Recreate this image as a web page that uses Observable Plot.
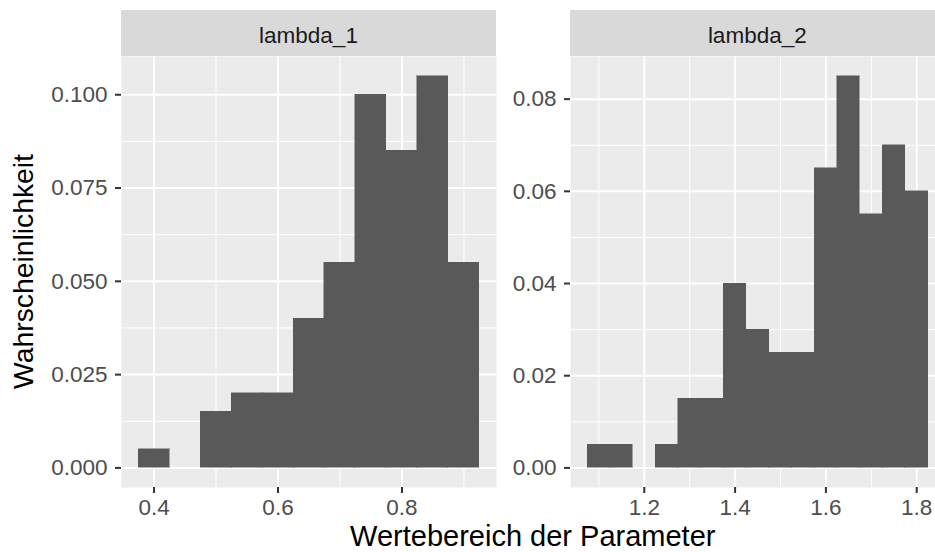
<!DOCTYPE html>
<html>
<head>
<meta charset="utf-8">
<script src="https://cdn.jsdelivr.net/npm/d3@7"></script>
<script src="https://cdn.jsdelivr.net/npm/@observablehq/plot@0.6"></script>
<style>
  html, body { margin: 0; padding: 0; background: #ffffff; }
  #chart { position: relative; width: 935px; height: 552px; overflow: hidden; background: #ffffff; }
  #chart > svg { position: absolute; left: 0; top: 0; max-width: none !important; }
  #chart [aria-label="x-axis tick label"], #chart [aria-label="y-axis tick label"] { fill: #4D4D4D; }
  #chart [aria-label="rect"] { shape-rendering: crispEdges; }
</style>
</head>
<body>
<div id="chart"></div>
<script>
// Posterior probabilities per bin (bin width 0.05, values are bin centres)
const binWidth = 0.05;

const lambda1Centers = [0.40, 0.45, 0.50, 0.55, 0.60, 0.65, 0.70, 0.75, 0.80, 0.85, 0.90];
const lambda1Probs   = [0.005, 0.000, 0.015, 0.020, 0.020, 0.040, 0.055, 0.100, 0.085, 0.105, 0.055];

const lambda2Centers = [1.10, 1.15, 1.20, 1.25, 1.30, 1.35, 1.40, 1.45, 1.50, 1.55, 1.60, 1.65, 1.70, 1.75, 1.80];
const lambda2Probs   = [0.005, 0.005, 0.000, 0.005, 0.015, 0.015, 0.040, 0.030, 0.025, 0.025, 0.065, 0.085, 0.055, 0.070, 0.060];

// Axis breaks
const lambda1XTicks = [0.4, 0.6, 0.8];
const lambda1YTicks = [0, 0.025, 0.05, 0.075, 0.1];
const lambda2XTicks = [1.2, 1.4, 1.6, 1.8];
const lambda2YTicks = [0, 0.02, 0.04, 0.06, 0.08];

const panelLabels = ["lambda_1", "lambda_2"];
const xTitle = "Wertebereich der Parameter";
const yTitle = "Wahrscheinlichkeit";

const W = 935, H = 552;
const panelTop = 56, panelBottom = 487;
const fontFamily = "'Liberation Sans', Arial, Helvetica, sans-serif";
const tickFont = 22.5;
const xTitleFont = 29;
const yTitleFont = 28.3;

// minor breaks sit halfway between the major ones
function minorBreaks(ticks, lo, hi) {
  const step = ticks[1] - ticks[0];
  const out = [];
  for (let i = -1; i < ticks.length; i++) {
    const v = (i < 0 ? ticks[0] - step : ticks[i]) + step / 2;
    if (v > lo && v < hi) out.push(v);
  }
  return out;
}

function panel({centers, probs, xTicks, yTicks, xFormat, yFormat, left, right, width}) {
  const bins = centers.map((c, i) => ({x1: c - binWidth / 2, x2: c + binWidth / 2, p: probs[i]}));
  const xlo = d3.min(bins, d => d.x1), xhi = d3.max(bins, d => d.x2);
  const xpad = (xhi - xlo) * 0.05;
  const ymax = d3.max(probs), ypad = ymax * 0.05;
  const xDomain = [xlo - xpad, xhi + xpad];
  const yDomain = [-ypad, ymax + ypad];
  const grid = {stroke: "#ffffff", strokeOpacity: 1};
  return Plot.plot({
    width, height: H,
    marginLeft: left, marginRight: width - right,
    marginTop: panelTop, marginBottom: H - panelBottom,
    x: {domain: xDomain},
    y: {domain: yDomain},
    style: {fontFamily, fontSize: tickFont + "px", background: "transparent", overflow: "visible"},
    marks: [
      Plot.frame({fill: "#EBEBEB", stroke: "none"}),
      Plot.gridX(minorBreaks(xTicks, ...xDomain), {...grid, strokeWidth: 1}),
      Plot.gridY(minorBreaks(yTicks, ...yDomain), {...grid, strokeWidth: 1}),
      Plot.gridX(xTicks, {...grid, strokeWidth: 2}),
      Plot.gridY(yTicks, {...grid, strokeWidth: 2}),
      Plot.rectY(bins, {x1: "x1", x2: "x2", y: "p", fill: "#595959", stroke: "#595959", strokeWidth: 0.5}),
      Plot.axisX(xTicks, {tickFormat: xFormat, tickSize: 6, tickPadding: 6, label: null,
        color: "#333333", strokeWidth: 2, fontSize: tickFont}),
      Plot.axisY(yTicks, {tickFormat: yFormat, tickSize: 6, tickPadding: 8, label: null,
        color: "#333333", strokeWidth: 2, fontSize: tickFont})
    ]
  });
}

const panels = [
  {centers: lambda1Centers, probs: lambda1Probs, xTicks: lambda1XTicks, yTicks: lambda1YTicks,
   xFormat: d3.format(".1f"), yFormat: d3.format(".3f"), left: 121, right: 496, width: 560},
  {centers: lambda2Centers, probs: lambda2Probs, xTicks: lambda2XTicks, yTicks: lambda2YTicks,
   xFormat: d3.format(".1f"), yFormat: d3.format(".2f"), left: 570, right: 944.6, width: 960}
];

const chart = document.getElementById("chart");
panels.forEach(p => chart.appendChild(panel(p)));

// facet strips and axis titles
const overlay = d3.select(chart).append("svg")
  .attr("width", W).attr("height", H)
  .style("font-family", fontFamily);

panels.forEach((p, i) => {
  overlay.append("rect")
    .attr("x", p.left).attr("y", 10)
    .attr("width", p.right - p.left).attr("height", panelTop - 10)
    .attr("fill", "#D9D9D9");
  overlay.append("text")
    .attr("x", (p.left + p.right) / 2).attr("y", 42.5)
    .attr("text-anchor", "middle")
    .attr("font-size", tickFont).attr("fill", "#1A1A1A")
    .text(panelLabels[i]);
});

overlay.append("text")
  .attr("x", (panels[0].left + panels[1].right) / 2).attr("y", 546)
  .attr("text-anchor", "middle")
  .attr("font-size", xTitleFont).attr("fill", "#000000")
  .text(xTitle);

overlay.append("text")
  .attr("transform", `translate(33,${(panelTop + panelBottom) / 2}) rotate(-90)`)
  .attr("text-anchor", "middle")
  .attr("font-size", yTitleFont).attr("fill", "#000000")
  .text(yTitle);
</script>
</body>
</html>
